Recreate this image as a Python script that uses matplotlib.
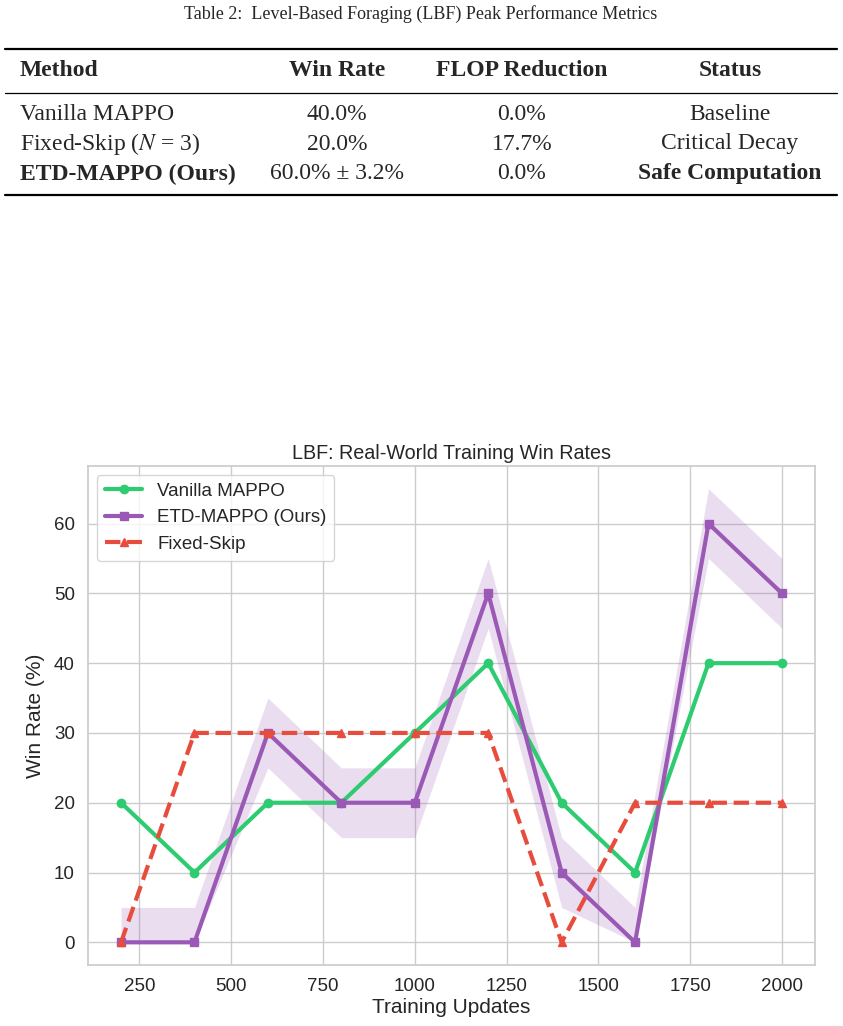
import matplotlib.pyplot as plt
import seaborn as sns
import numpy as np

# training curve data
updates = [200, 400, 600, 800, 1000, 1200, 1400, 1600, 1800, 2000]
vanilla = [20, 10, 20, 20, 30, 40, 20, 10, 40, 40]
etd = [0, 0, 30, 20, 20, 50, 10, 0, 60, 50]
fixed_skip = [0, 30, 30, 30, 30, 30, 0, 20, 20, 20]
etd_std = 5

# table data
table_cols = ["Method", "Win Rate", "FLOP Reduction", "Status"]
table_rows = [
    ["Vanilla MAPPO", "40.0%", "0.0%", "Baseline"],
    ["Fixed-Skip ($N$ = 3)", "20.0%", "17.7%", "Critical Decay"],
    ["ETD-MAPPO (Ours)", "60.0% ± 3.2%", "0.0%", "Safe Computation"],
]
bold_rows = [False, False, True]

sns.set_theme(style="whitegrid")
plt.rcParams["font.family"] = ["Liberation Sans", "DejaVu Sans"]
plt.rcParams["mathtext.fontset"] = "stix"

W, H = 843, 1026
fig = plt.figure(figsize=(W / 100, H / 100), dpi=100)

def fx(px):
    return px / W

def fy(py):
    return 1 - py / H

serif = ["Liberation Serif", "DejaVu Serif"]

# --- table (rendered as text) ---
fig.text(fx(421), fy(14), "Table 2:  Level-Based Foraging (LBF) Peak Performance Metrics",
         ha="center", va="center", fontsize=13, family=serif)

col_x = [20, 337, 522, 730]
col_ha = ["left", "center", "center", "center"]

fig.add_artist(plt.Line2D([fx(5), fx(837)], [fy(49), fy(49)], color="black", lw=1.6))
fig.add_artist(plt.Line2D([fx(5), fx(837)], [fy(93), fy(93)], color="black", lw=0.9))
fig.add_artist(plt.Line2D([fx(5), fx(837)], [fy(195), fy(195)], color="black", lw=1.6))

for c, name in enumerate(table_cols):
    fig.text(fx(col_x[c]), fy(71), name, ha=col_ha[c], va="center",
             fontsize=17, family=serif, weight="bold")

row_y = [114, 144, 174]
for r, row in enumerate(table_rows):
    for c, val in enumerate(row):
        w = "bold" if (bold_rows[r] and c in (0, 3)) else "normal"
        fig.text(fx(col_x[c]), fy(row_y[r]), val, ha=col_ha[c], va="center",
                 fontsize=17, family=serif, weight=w)

# --- chart ---
ax = fig.add_axes([fx(88), fy(965), fx(815) - fx(88), fy(466) - fy(965)])

green = "#2ecc71"
purple = "#9b59b6"
red = "#e74c3c"

etd_arr = np.array(etd)
ax.fill_between(updates, np.clip(etd_arr - etd_std, 0, None), etd_arr + etd_std,
                color=purple, alpha=0.2, lw=0)
ax.plot(updates, vanilla, color=green, lw=3, marker="o", ms=6, label="Vanilla MAPPO")
ax.plot(updates, etd, color=purple, lw=3, marker="s", ms=6, label="ETD-MAPPO (Ours)")
ax.plot(updates, fixed_skip, color=red, lw=3, ls="--", marker="^", ms=6, label="Fixed-Skip")

ax.set_title("LBF: Real-World Training Win Rates", fontsize=14.2, pad=5)
ax.set_xlabel("Training Updates", fontsize=15, labelpad=2)
ax.set_ylabel("Win Rate (%)", fontsize=15, labelpad=6)
ax.tick_params(labelsize=13.5)
ax.set_xticks([250, 500, 750, 1000, 1250, 1500, 1750, 2000])
ax.set_yticks([0, 10, 20, 30, 40, 50, 60])
ax.legend(loc="upper left", fontsize=13.5, frameon=True)

fig.savefig("out.png", dpi=100)
